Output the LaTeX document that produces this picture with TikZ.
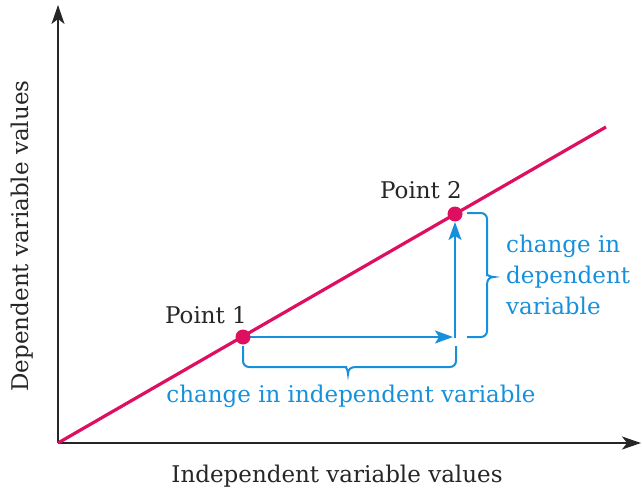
\documentclass[tikz,border=0pt]{standalone}
\usepackage{fontspec}
\setmainfont{DejaVu Serif}
\usetikzlibrary{arrows.meta}
\definecolor{linered}{RGB}{222,14,96}
\definecolor{arrblue}{RGB}{22,144,220}
\tikzset{
  axis/.style={line width=1.5pt,draw=black!85,-{Stealth[length=19pt,width=13pt,inset=5pt]}},
  redline/.style={line width=3.2pt,draw=linered},
  dot/.style={circle,fill=linered,inner sep=0pt,minimum size=15pt},
  bluearr/.style={line width=2pt,draw=arrblue,-{Stealth[length=18pt,width=13pt,inset=4pt]}},
  brace/.style={line width=2pt,draw=arrblue,rounded corners=6pt},
  lbl/.style={inner sep=0pt,font=\fontsize{23}{31}\selectfont,text=black!85},
  bluelbl/.style={inner sep=0pt,font=\fontsize{23}{31}\selectfont,text=arrblue},
}
\begin{document}
\begin{tikzpicture}[x=1pt,y=-1pt]
\useasboundingbox (0,0) rectangle (642,492);
% axes
\coordinate (O) at (58,443);
\coordinate (ytop) at (58,5);
\coordinate (xend) at (641,443);
\draw[axis] (O) -- (ytop);
\draw[axis] (O) -- (xend);
% line
\coordinate (lend) at (606,127);
\draw[redline] (O) -- (lend);
% arrows
\coordinate (a1) at (243,337);
\coordinate (h2) at (453,337);
\coordinate (c1) at (455,338);
\coordinate (v2) at (455,222);
\draw[bluearr] (a1) -- (h2);
\draw[bluearr] (c1) -- (v2);
% points
\node[dot] (p1) at (a1) {};
\node[dot] (p2) at (455,214) {};
% horizontal brace
\coordinate (hb1) at (243,346);
\coordinate (hb2) at (456,346);
\draw[brace] (hb1) |- (340,367) [sharp corners] .. controls (345,367) and (348,369) .. (348,374)
  .. controls (348,369) and (351,367) .. (356,367) [rounded corners=6pt] -| (hb2);
% vertical brace
\coordinate (vb1) at (467,213);
\coordinate (vb2) at (467,337);
\draw[brace] (vb1) -| (487,269) [sharp corners] .. controls (487,274) and (489,277) .. (494,277)
  .. controls (489,277) and (487,280) .. (487,285) [rounded corners=6pt] |- (vb2);
% labels
\node[lbl] (t1) at (206,315) {Point 1};
\node[lbl] (t2) at (421,190) {Point 2};
\node[bluelbl] (hl) at (351,396) {change in independent variable};
\node[bluelbl,anchor=west,align=left] (vl) at (506,275) {change in\\dependent\\variable};
\node[lbl] (xl) at (337,476) {Independent variable values};
\node[lbl,rotate=90] (yl) at (22,236) {Dependent variable values};
\end{tikzpicture}
\end{document}
